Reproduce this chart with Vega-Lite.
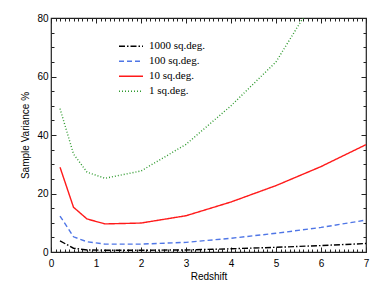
{
  "$schema": "https://vega.github.io/schema/vega-lite/v6.json",
  "autosize": {"type": "none"},
  "padding": {"left": 51, "top": 18, "right": 16, "bottom": 35},
  "width": 315,
  "height": 234,
  "background": "white",
  "config": {
    "view": {"stroke": "#222222", "strokeWidth": 1.2},
    "axis": {"domain": false, "grid": false, "labelFont": "Liberation Sans", "labelFontSize": 10, "labelColor": "black", "titleFont": "Liberation Sans", "titleFontSize": 10, "titleFontWeight": "normal", "titleColor": "black", "tickColor": "#222222"}
  },
  "data": {
    "values": [
      {"z": 0.2, "v": 3.8, "s": "1000 sq.deg."},
      {"z": 0.5, "v": 1.3, "s": "1000 sq.deg."},
      {"z": 0.8, "v": 0.7, "s": "1000 sq.deg."},
      {"z": 1.2, "v": 0.6, "s": "1000 sq.deg."},
      {"z": 2, "v": 0.6, "s": "1000 sq.deg."},
      {"z": 3, "v": 0.7, "s": "1000 sq.deg."},
      {"z": 4, "v": 1.1, "s": "1000 sq.deg."},
      {"z": 5, "v": 1.6, "s": "1000 sq.deg."},
      {"z": 6, "v": 2.2, "s": "1000 sq.deg."},
      {"z": 7, "v": 2.9, "s": "1000 sq.deg."},
      {"z": 0.2, "v": 12.3, "s": "100 sq.deg."},
      {"z": 0.5, "v": 5.2, "s": "100 sq.deg."},
      {"z": 0.8, "v": 3.5, "s": "100 sq.deg."},
      {"z": 1.2, "v": 2.7, "s": "100 sq.deg."},
      {"z": 2, "v": 2.7, "s": "100 sq.deg."},
      {"z": 3, "v": 3.3, "s": "100 sq.deg."},
      {"z": 4, "v": 4.7, "s": "100 sq.deg."},
      {"z": 5, "v": 6.4, "s": "100 sq.deg."},
      {"z": 6, "v": 8.4, "s": "100 sq.deg."},
      {"z": 7, "v": 10.9, "s": "100 sq.deg."},
      {"z": 0.2, "v": 29, "s": "10 sq.deg."},
      {"z": 0.5, "v": 15.3, "s": "10 sq.deg."},
      {"z": 0.8, "v": 11.3, "s": "10 sq.deg."},
      {"z": 1.2, "v": 9.6, "s": "10 sq.deg."},
      {"z": 2, "v": 9.9, "s": "10 sq.deg."},
      {"z": 3, "v": 12.4, "s": "10 sq.deg."},
      {"z": 4, "v": 17.1, "s": "10 sq.deg."},
      {"z": 5, "v": 22.7, "s": "10 sq.deg."},
      {"z": 6, "v": 29.2, "s": "10 sq.deg."},
      {"z": 7, "v": 36.7, "s": "10 sq.deg."},
      {"z": 0.2, "v": 49, "s": "1 sq.deg."},
      {"z": 0.5, "v": 33.5, "s": "1 sq.deg."},
      {"z": 0.8, "v": 27.3, "s": "1 sq.deg."},
      {"z": 1.2, "v": 25.2, "s": "1 sq.deg."},
      {"z": 2, "v": 27.7, "s": "1 sq.deg."},
      {"z": 3, "v": 36.8, "s": "1 sq.deg."},
      {"z": 4, "v": 50, "s": "1 sq.deg."},
      {"z": 5, "v": 65, "s": "1 sq.deg."},
      {"z": 6, "v": 90, "s": "1 sq.deg."},
      {"z": 7, "v": 118, "s": "1 sq.deg."}
    ]
  },
  "resolve": {"axis": {"x": "independent", "y": "independent"}},
  "layer": [
    {
      "mark": {"type": "line", "clip": true, "strokeWidth": 1.4},
      "encoding": {
        "x": {"field": "z", "type": "quantitative", "scale": {"domain": [0, 7], "nice": false, "zero": false},
              "axis": {"orient": "bottom", "values": [0, 1, 2, 3, 4, 5, 6, 7], "ticks": false, "labelPadding": 6, "title": "Redshift", "titlePadding": 3, "labelFlush": false}},
        "y": {"field": "v", "type": "quantitative", "scale": {"domain": [0, 80], "nice": false, "zero": false},
              "axis": {"orient": "left", "values": [0, 20, 40, 60, 80], "ticks": false, "labelPadding": 3, "title": "Sample Variance %", "titlePadding": 6, "labelFlush": false}},
        "color": {"field": "s", "type": "nominal",
                  "scale": {"domain": ["1000 sq.deg.", "100 sq.deg.", "10 sq.deg.", "1 sq.deg."], "range": ["#000000", "#4f76e6", "#ff1a1a", "#2f9a2f"]},
                  "legend": {"orient": "none", "legendX": 67, "legendY": 21, "title": null, "symbolType": "stroke", "symbolSize": 576, "symbolStrokeWidth": 1.4, "labelFont": "Liberation Serif", "labelFontSize": 11, "labelColor": "black", "clipHeight": 14.5, "rowPadding": 0, "labelOffset": 5}},
        "strokeDash": {"field": "s", "type": "nominal",
                  "scale": {"domain": ["1000 sq.deg.", "100 sq.deg.", "10 sq.deg.", "1 sq.deg."], "range": [[6, 2, 1.5, 2], [5, 3], [1, 0], [1, 2]]},
                  "legend": {"orient": "none", "legendX": 67, "legendY": 21, "title": null, "symbolType": "stroke", "symbolSize": 576, "symbolStrokeWidth": 1.4, "labelFont": "Liberation Serif", "labelFontSize": 11, "labelColor": "black", "clipHeight": 14.5, "rowPadding": 0, "labelOffset": 5}}
      }
    },
    {
      "mark": {"type": "point", "opacity": 0},
      "encoding": {
        "x": {"field": "z", "type": "quantitative", "axis": {"orient": "bottom", "values": [0, 1, 2, 3, 4, 5, 6, 7], "labels": false, "tickSize": -5, "title": null}},
        "y": {"field": "v", "type": "quantitative", "axis": {"orient": "left", "values": [0, 20, 40, 60, 80], "labels": false, "tickSize": -5, "title": null}}
      }
    },
    {
      "mark": {"type": "point", "opacity": 0},
      "encoding": {
        "x": {"field": "z", "type": "quantitative", "axis": {"orient": "top", "values": [0, 1, 2, 3, 4, 5, 6, 7], "labels": false, "tickSize": -5, "title": null}},
        "y": {"field": "v", "type": "quantitative", "axis": {"orient": "right", "values": [0, 20, 40, 60, 80], "labels": false, "tickSize": -5, "title": null}}
      }
    },
    {
      "mark": {"type": "point", "opacity": 0},
      "encoding": {
        "x": {"field": "z", "type": "quantitative", "axis": {"orient": "bottom", "values": [0.1, 0.2, 0.3, 0.4, 0.5, 0.6, 0.7, 0.8, 0.9, 1.1, 1.2, 1.3, 1.4, 1.5, 1.6, 1.7, 1.8, 1.9, 2.1, 2.2, 2.3, 2.4, 2.5, 2.6, 2.7, 2.8, 2.9, 3.1, 3.2, 3.3, 3.4, 3.5, 3.6, 3.7, 3.8, 3.9, 4.1, 4.2, 4.3, 4.4, 4.5, 4.6, 4.7, 4.8, 4.9, 5.1, 5.2, 5.3, 5.4, 5.5, 5.6, 5.7, 5.8, 5.9, 6.1, 6.2, 6.3, 6.4, 6.5, 6.6, 6.7, 6.8, 6.9], "labels": false, "tickSize": -3, "title": null}},
        "y": {"field": "v", "type": "quantitative", "axis": {"orient": "left", "values": [5, 10, 15, 25, 30, 35, 45, 50, 55, 65, 70, 75], "labels": false, "tickSize": -3, "title": null}}
      }
    },
    {
      "mark": {"type": "point", "opacity": 0},
      "encoding": {
        "x": {"field": "z", "type": "quantitative", "axis": {"orient": "top", "values": [0.1, 0.2, 0.3, 0.4, 0.5, 0.6, 0.7, 0.8, 0.9, 1.1, 1.2, 1.3, 1.4, 1.5, 1.6, 1.7, 1.8, 1.9, 2.1, 2.2, 2.3, 2.4, 2.5, 2.6, 2.7, 2.8, 2.9, 3.1, 3.2, 3.3, 3.4, 3.5, 3.6, 3.7, 3.8, 3.9, 4.1, 4.2, 4.3, 4.4, 4.5, 4.6, 4.7, 4.8, 4.9, 5.1, 5.2, 5.3, 5.4, 5.5, 5.6, 5.7, 5.8, 5.9, 6.1, 6.2, 6.3, 6.4, 6.5, 6.6, 6.7, 6.8, 6.9], "labels": false, "tickSize": -3, "title": null}},
        "y": {"field": "v", "type": "quantitative", "axis": {"orient": "right", "values": [5, 10, 15, 25, 30, 35, 45, 50, 55, 65, 70, 75], "labels": false, "tickSize": -3, "title": null}}
      }
    }
  ]
}
